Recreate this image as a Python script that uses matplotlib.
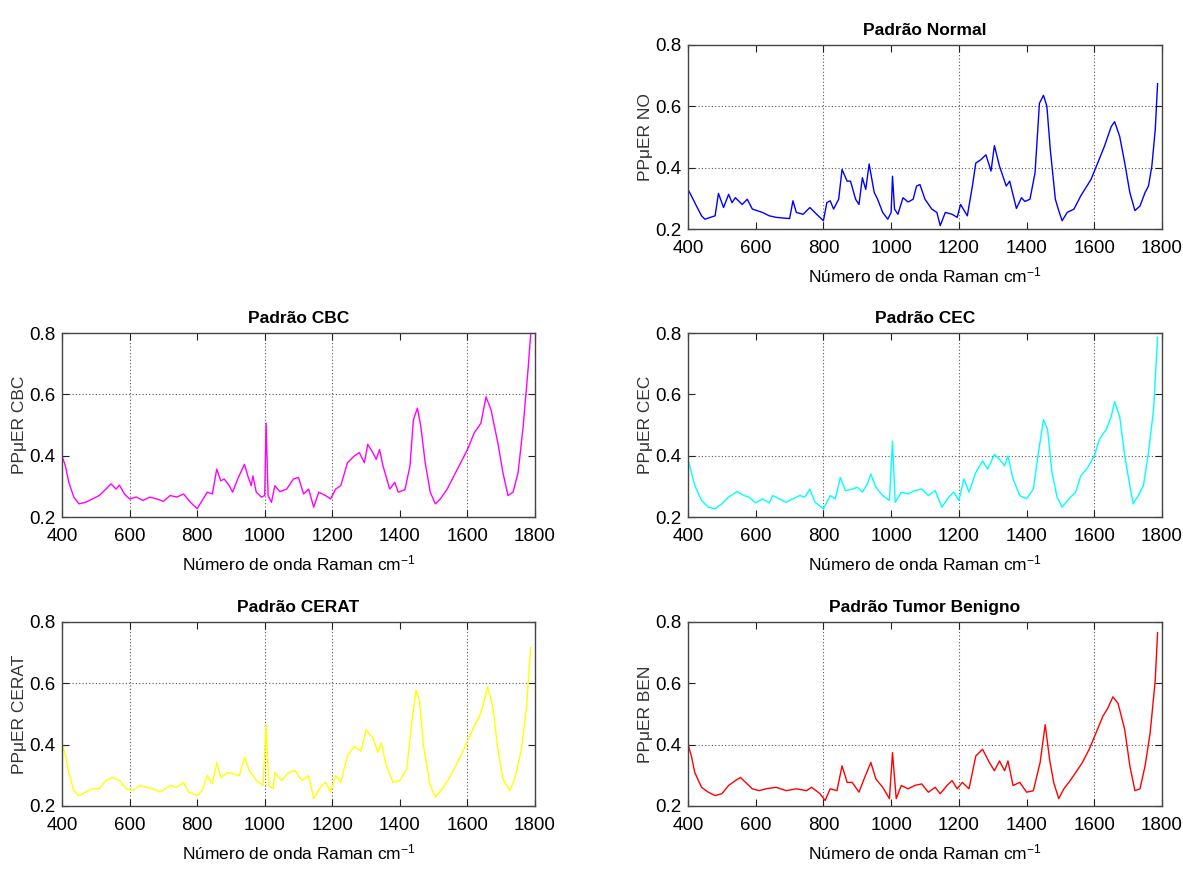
import matplotlib
matplotlib.use("Agg")
import matplotlib.pyplot as plt

plt.rcParams['font.family'] = ['Liberation Sans Narrow', 'Liberation Sans', 'DejaVu Sans']
plt.rcParams['mathtext.default'] = 'regular'

# ---------------- data ----------------
no_x = [400, 410, 420, 425, 440, 450, 480, 490, 505, 520, 530, 540, 560, 575, 590, 620, 640, 660, 700,
        710, 720, 740, 760, 780, 800, 810, 820, 830, 845, 855, 870, 880, 895, 905, 915, 925, 935, 950,
        960, 975, 990, 1000, 1004, 1010, 1020, 1035, 1050, 1065, 1075, 1085, 1100, 1120, 1135, 1145,
        1160, 1180, 1195, 1205, 1225, 1240, 1250, 1265, 1280, 1295, 1305, 1320, 1340, 1350, 1370, 1385,
        1395, 1410, 1425, 1438, 1450, 1460, 1470, 1485, 1495, 1505, 1520, 1540, 1560, 1590, 1610, 1630,
        1650, 1660, 1675, 1690, 1705, 1720, 1735, 1750, 1760, 1770, 1780, 1787]
no_y = [0.329, 0.308, 0.286, 0.275, 0.243, 0.232, 0.243, 0.316, 0.270, 0.313, 0.286, 0.302, 0.280, 0.297,
        0.265, 0.254, 0.243, 0.238, 0.234, 0.292, 0.254, 0.248, 0.270, 0.248, 0.227, 0.286, 0.292, 0.265,
        0.297, 0.394, 0.356, 0.356, 0.297, 0.280, 0.367, 0.329, 0.412, 0.319, 0.297, 0.254, 0.232, 0.254,
        0.372, 0.265, 0.248, 0.302, 0.288, 0.297, 0.340, 0.345, 0.297, 0.265, 0.254, 0.211, 0.254, 0.248,
        0.238, 0.280, 0.243, 0.340, 0.415, 0.426, 0.442, 0.389, 0.472, 0.405, 0.340, 0.356, 0.267, 0.302,
        0.290, 0.297, 0.383, 0.610, 0.636, 0.600, 0.460, 0.297, 0.260, 0.227, 0.254, 0.265, 0.308, 0.361,
        0.415, 0.470, 0.534, 0.550, 0.502, 0.415, 0.319, 0.260, 0.275, 0.319, 0.340, 0.405, 0.523, 0.674]

cbc_x = [400, 410, 420, 435, 450, 470, 490, 510, 530, 545, 560, 570, 585, 600, 620, 640, 660, 680, 700,
         720, 740, 760, 780, 800, 815, 830, 845, 858, 870, 880, 895, 905, 920, 940, 950, 960, 965, 975,
         990, 1000, 1004, 1010, 1020, 1030, 1045, 1065, 1085, 1100, 1115, 1130, 1145, 1160, 1180, 1195,
         1210, 1225, 1245, 1265, 1280, 1295, 1305, 1320, 1330, 1340, 1350, 1370, 1385, 1395, 1415, 1430,
         1440, 1452, 1462, 1475, 1490, 1505, 1520, 1540, 1560, 1580, 1600, 1620, 1640, 1655, 1670, 1690,
         1705, 1720, 1735, 1750, 1765, 1780, 1788]
cbc_y = [0.399, 0.367, 0.313, 0.265, 0.243, 0.248, 0.259, 0.270, 0.291, 0.308, 0.291, 0.304, 0.275, 0.259,
         0.265, 0.254, 0.265, 0.259, 0.251, 0.270, 0.265, 0.275, 0.248, 0.227, 0.254, 0.281, 0.275, 0.356,
         0.318, 0.324, 0.302, 0.281, 0.324, 0.372, 0.334, 0.302, 0.334, 0.281, 0.265, 0.270, 0.506, 0.270,
         0.248, 0.302, 0.283, 0.291, 0.324, 0.329, 0.275, 0.291, 0.232, 0.281, 0.270, 0.259, 0.291, 0.302,
         0.377, 0.399, 0.410, 0.377, 0.437, 0.410, 0.388, 0.420, 0.367, 0.291, 0.313, 0.281, 0.289, 0.367,
         0.517, 0.555, 0.496, 0.377, 0.281, 0.243, 0.259, 0.291, 0.334, 0.377, 0.420, 0.474, 0.506, 0.592,
         0.549, 0.442, 0.345, 0.270, 0.281, 0.345, 0.496, 0.689, 0.807]

cec_x = [400, 410, 420, 440, 460, 480, 500, 520, 545, 565, 580, 600, 620, 640, 650, 670, 690, 710, 730,
         745, 760, 775, 800, 820, 835, 850, 865, 885, 900, 915, 930, 940, 955, 975, 995, 1004, 1012, 1030,
         1050, 1070, 1090, 1110, 1130, 1150, 1170, 1185, 1200, 1215, 1230, 1250, 1270, 1285, 1305, 1320,
         1335, 1345, 1360, 1380, 1400, 1420, 1435, 1450, 1462, 1475, 1490, 1505, 1525, 1545, 1560, 1580,
         1600, 1615, 1635, 1650, 1660, 1675, 1690, 1705, 1715, 1730, 1745, 1760, 1775, 1787]
cec_y = [0.388, 0.345, 0.302, 0.254, 0.232, 0.227, 0.243, 0.265, 0.283, 0.270, 0.265, 0.246, 0.259, 0.246,
         0.270, 0.259, 0.248, 0.259, 0.270, 0.265, 0.291, 0.248, 0.227, 0.270, 0.259, 0.329, 0.286, 0.291,
         0.297, 0.281, 0.308, 0.340, 0.297, 0.270, 0.254, 0.447, 0.248, 0.281, 0.275, 0.286, 0.291, 0.270,
         0.286, 0.232, 0.265, 0.281, 0.254, 0.324, 0.281, 0.345, 0.383, 0.356, 0.404, 0.388, 0.367, 0.399,
         0.324, 0.270, 0.259, 0.291, 0.410, 0.517, 0.485, 0.345, 0.265, 0.232, 0.259, 0.281, 0.334, 0.361,
         0.399, 0.453, 0.485, 0.528, 0.576, 0.528, 0.399, 0.302, 0.243, 0.270, 0.302, 0.410, 0.549, 0.786]

cerat_x = [400, 410, 420, 435, 450, 470, 490, 510, 530, 550, 570, 590, 610, 630, 650, 670, 690, 720, 740,
           760, 775, 800, 815, 830, 845, 858, 870, 890, 910, 925, 940, 955, 975, 995, 1004, 1012, 1025,
           1030, 1050, 1070, 1090, 1110, 1130, 1145, 1165, 1180, 1195, 1210, 1225, 1245, 1265, 1285, 1300,
           1320, 1335, 1345, 1360, 1380, 1400, 1420, 1435, 1448, 1458, 1470, 1490, 1505, 1525, 1545, 1565,
           1585, 1600, 1620, 1640, 1660, 1675, 1690, 1705, 1725, 1740, 1760, 1775, 1787]
cerat_y = [0.401, 0.368, 0.309, 0.250, 0.234, 0.245, 0.256, 0.256, 0.283, 0.293, 0.283, 0.256, 0.250, 0.267,
           0.261, 0.256, 0.245, 0.267, 0.261, 0.277, 0.245, 0.234, 0.250, 0.299, 0.272, 0.342, 0.293, 0.309,
           0.304, 0.299, 0.358, 0.315, 0.283, 0.267, 0.465, 0.267, 0.256, 0.309, 0.283, 0.309, 0.315, 0.283,
           0.299, 0.224, 0.261, 0.277, 0.245, 0.299, 0.277, 0.363, 0.395, 0.379, 0.449, 0.422, 0.374, 0.406,
           0.331, 0.277, 0.283, 0.320, 0.470, 0.578, 0.545, 0.395, 0.267, 0.229, 0.256, 0.288, 0.331, 0.374,
           0.411, 0.460, 0.503, 0.588, 0.524, 0.385, 0.288, 0.250, 0.288, 0.385, 0.524, 0.717]

ben_x = [400, 410, 420, 440, 460, 480, 500, 520, 540, 555, 570, 590, 610, 630, 660, 690, 720, 750, 765,
         790, 805, 820, 840, 855, 870, 885, 905, 920, 940, 955, 975, 995, 1004, 1015, 1030, 1050, 1070,
         1090, 1110, 1130, 1145, 1165, 1180, 1195, 1210, 1230, 1250, 1270, 1290, 1305, 1320, 1335, 1345,
         1360, 1380, 1400, 1420, 1440, 1455, 1468, 1480, 1495, 1510, 1525, 1545, 1565, 1585, 1605, 1625,
         1640, 1655, 1670, 1690, 1705, 1720, 1735, 1750, 1765, 1780, 1787]
ben_y = [0.401, 0.363, 0.309, 0.261, 0.245, 0.234, 0.240, 0.267, 0.283, 0.293, 0.277, 0.256, 0.250, 0.256,
         0.261, 0.250, 0.256, 0.250, 0.261, 0.240, 0.218, 0.256, 0.250, 0.331, 0.277, 0.277, 0.245, 0.288,
         0.342, 0.288, 0.261, 0.224, 0.374, 0.224, 0.267, 0.256, 0.267, 0.272, 0.245, 0.261, 0.240, 0.267,
         0.283, 0.256, 0.277, 0.256, 0.363, 0.385, 0.342, 0.315, 0.347, 0.315, 0.347, 0.267, 0.277, 0.245,
         0.250, 0.342, 0.465, 0.352, 0.277, 0.224, 0.256, 0.277, 0.309, 0.342, 0.385, 0.438, 0.492, 0.519,
         0.556, 0.535, 0.449, 0.331, 0.250, 0.256, 0.331, 0.438, 0.610, 0.765]

titles = ['Padrão Normal', 'Padrão CBC', 'Padrão CEC', 'Padrão CERAT', 'Padrão Tumor Benigno']
ylabels = ['PPμER NO', 'PPμER CBC', 'PPμER CEC', 'PPμER CERAT', 'PPμER BEN']
xlabel = 'Número de onda Raman cm$^{-1}$'
xticks = [400, 600, 800, 1000, 1200, 1400, 1600, 1800]
yticks = [0.2, 0.4, 0.6, 0.8]
ytick_labels = ['0.2', '0.4', '0.6', '0.8']

series = [(no_x, no_y), (cbc_x, cbc_y), (cec_x, cec_y), (cerat_x, cerat_y), (ben_x, ben_y)]
colors = ['#0000ff', '#ff00ff', '#00ffff', '#ffff00', '#ff0000']

# grid lines that are visible in each panel of the reference
vgrids = [[800, 1200, 1600], [600, 1000, 1200, 1600], [800, 1200, 1600],
          [600, 1000, 1200, 1600], [800, 1200, 1600]]
hgrids = [[0.4, 0.6], [0.6], [0.4], [0.6], [0.4]]

W, H = 1183, 873
fig = plt.figure(figsize=(W / 100, H / 100), dpi=100)

def box(l, r, t, b):
    return [l / W, 1 - b / H, (r - l) / W, (b - t) / H]

positions = [box(688, 1162, 45, 229), box(62, 535, 333, 517), box(688, 1162, 333, 517),
             box(62, 535, 622, 806), box(688, 1162, 622, 806)]

for i, pos in enumerate(positions):
    ax = fig.add_axes(pos)
    x, y = series[i]
    for gx in vgrids[i]:
        ax.axvline(gx, color='#555555', linestyle=(0, (1, 2)), linewidth=0.8, zorder=0)
    for gy in hgrids[i]:
        ax.axhline(gy, color='#555555', linestyle=(0, (1, 2)), linewidth=0.8, zorder=0)
    ax.plot(x, y, color=colors[i], linewidth=1.0)
    ax.set_xlim(400, 1800)
    ax.set_ylim(0.2, 0.8)
    ax.set_xticks(xticks)
    ax.set_yticks(yticks)
    ax.set_yticklabels(ytick_labels)
    ax.tick_params(direction='in', top=True, right=True, length=5, width=0.8,
                   labelsize=13.5, colors='#222222')
    ax.tick_params(axis='x', pad=8)
    ax.tick_params(axis='y', pad=5)
    for lab in ax.get_xticklabels() + ax.get_yticklabels():
        lab.set_color('black')
    for s in ax.spines.values():
        s.set_color('#444444')
        s.set_linewidth(1.0)
    ax.set_title(titles[i], fontsize=12.5, fontweight='bold', pad=7)
    ax.set_xlabel(xlabel, fontsize=12.5, labelpad=6)
    ax.set_ylabel(ylabels[i], fontsize=12.5, family=['Liberation Sans', 'DejaVu Sans'],
                  color='#333333', labelpad=1)

fig.savefig('out.png', dpi=100)
